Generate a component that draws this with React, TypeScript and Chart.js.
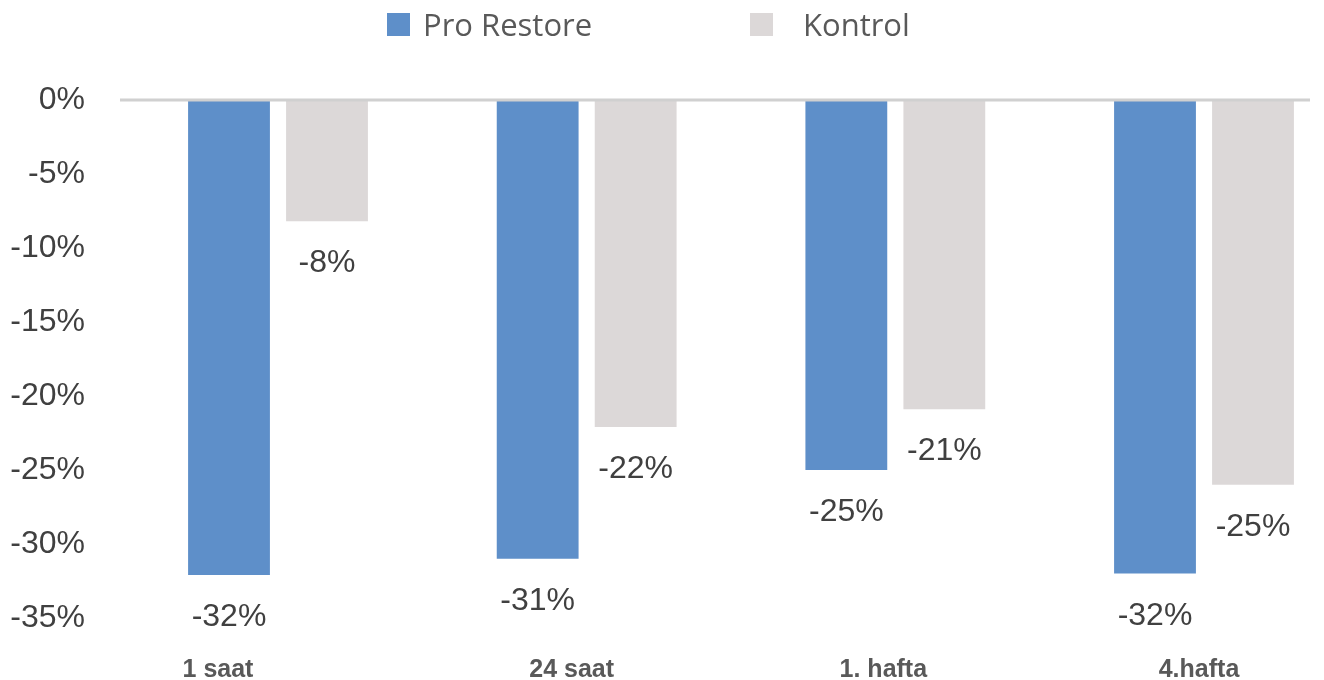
import React, { useEffect, useRef } from "react";
import { Chart, registerables } from "chart.js";

Chart.register(...registerables);

const categories = ["1 saat", "24 saat", "1. hafta", "4.hafta"];
const seriesNames = ["Pro Restore", "Kontrol"];
const proRestoreValues = [-32.1, -31, -25, -32];
const kontrolValues = [-8.2, -22.1, -20.9, -26];
const proRestoreLabels = ["-32%", "-31%", "-25%", "-32%"];
const kontrolLabels = ["-8%", "-22%", "-21%", "-25%"];
const yTickValues = [0, -5, -10, -15, -20, -25, -30, -35];

const BLUE = "#5E8FC9";
const GRAY = "#DCD8D8";
const TEXT_DARK = "#404040";
const TEXT_MID = "#595959";
const NUM_FONT = "32px 'Liberation Sans', Arial, sans-serif";

// small horizontal nudges of category captions relative to group centres
const categoryNudge = [-60, -15, -12, -5];

const overlayPlugin = {
  id: "overlay",
  afterDatasetsDraw(chart: any) {
    const ctx = chart.ctx;
    const y = chart.scales.y.getPixelForValue(0);
    ctx.save();
    ctx.strokeStyle = "#D0D0D0";
    ctx.lineWidth = 3;
    ctx.beginPath();
    ctx.moveTo(120, y);
    ctx.lineTo(1310, y);
    ctx.stroke();

    // value labels under bar ends
    ctx.font = NUM_FONT;
    ctx.fillStyle = TEXT_DARK;
    ctx.textAlign = "center";
    ctx.textBaseline = "alphabetic";
    const labelSets = [proRestoreLabels, kontrolLabels];
    chart.data.datasets.forEach((_: any, di: number) => {
      const meta = chart.getDatasetMeta(di);
      meta.data.forEach((el: any, i: number) => {
        ctx.fillText(labelSets[di][i], el.x, el.y + 51);
      });
    });

    // category captions
    const xs = chart.scales.x;
    ctx.font = "bold 25px 'Liberation Sans', Arial, sans-serif";
    ctx.fillStyle = TEXT_MID;
    categories.forEach((c, i) => {
      ctx.fillText(c, xs.getPixelForValue(i) + categoryNudge[i], 677);
    });

    // legend
    const legendBoxX = [387, 750];
    const legendTextX = [423, 803];
    ctx.font = "31px 'Open Sans', sans-serif";
    ctx.textAlign = "left";
    chart.data.datasets.forEach((ds: any, di: number) => {
      ctx.fillStyle = ds.backgroundColor;
      ctx.fillRect(legendBoxX[di], 13, 23, 23);
      ctx.fillStyle = TEXT_MID;
      ctx.fillText(ds.label, legendTextX[di], 36);
    });
    ctx.restore();
  },
};

export default function App() {
  const canvasRef = useRef<HTMLCanvasElement | null>(null);

  useEffect(() => {
    if (!canvasRef.current) return;
    const chart = new Chart(canvasRef.current, {
      type: "bar",
      data: {
        labels: categories,
        datasets: [
          {
            label: seriesNames[0],
            data: proRestoreValues,
            backgroundColor: BLUE,
            clip: false as any,
          },
          {
            label: seriesNames[1],
            data: kontrolValues,
            backgroundColor: GRAY,
            clip: false as any,
          },
        ],
      },
      options: {
        animation: false,
        responsive: true,
        maintainAspectRatio: false,
        devicePixelRatio: 1,
        layout: { padding: { top: 100, right: 120, bottom: 62, left: 0 } },
        datasets: {
          bar: { categoryPercentage: 0.635, barPercentage: 0.835 },
        },
        plugins: {
          legend: { display: false },
          tooltip: { enabled: false },
        },
        scales: {
          x: {
            display: false,
            offset: false,
            grid: { display: false, offset: false },
          },
          y: {
            min: -35,
            max: 0,
            border: { display: false },
            grid: { display: false, drawTicks: false },
            afterFit(scale: any) {
              scale.width = 278;
              scale.paddingTop = 16;
              scale.paddingBottom = 16;
            },
            afterBuildTicks(scale: any) {
              scale.ticks = yTickValues.map((v) => ({ value: v }));
            },
            ticks: {
              padding: 193,
              color: TEXT_DARK,
              font: { family: "'Liberation Sans', Arial, sans-serif", size: 32 },
              callback: (v: any) => `${v}%`,
            },
          },
        },
      },
      plugins: [overlayPlugin],
    });
    return () => chart.destroy();
  }, []);

  return (
    <div style={{ position: "fixed", left: 0, top: 0, width: 1324, height: 680, background: "#fff" }}>
      <canvas ref={canvasRef} />
    </div>
  );
}
